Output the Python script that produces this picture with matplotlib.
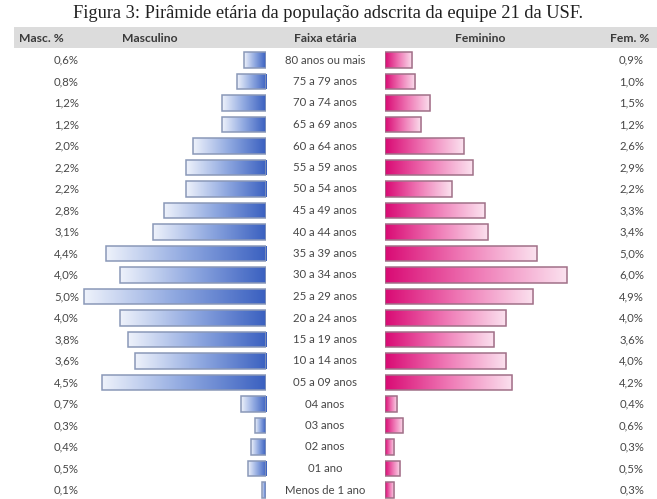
import numpy as np
import matplotlib
matplotlib.use("Agg")
import matplotlib.pyplot as plt
from matplotlib.colors import LinearSegmentedColormap

categories = ["80 anos ou mais", "75 a 79 anos", "70 a 74 anos", "65 a 69 anos",
              "60 a 64 anos", "55 a 59 anos", "50 a 54 anos", "45 a 49 anos",
              "40 a 44 anos", "35 a 39 anos", "30 a 34 anos", "25 a 29 anos",
              "20 a 24 anos", "15 a 19 anos", "10 a 14 anos", "05 a 09 anos",
              "04 anos", "03 anos", "02 anos", "01 ano", "Menos de 1 ano"]
masc = [0.6, 0.8, 1.2, 1.2, 2.0, 2.2, 2.2, 2.8, 3.1, 4.4, 4.0, 5.0, 4.0, 3.8,
        3.6, 4.5, 0.7, 0.3, 0.4, 0.5, 0.1]
fem = [0.9, 1.0, 1.5, 1.2, 2.6, 2.9, 2.2, 3.3, 3.4, 5.0, 6.0, 4.9, 4.0, 3.6,
       4.0, 4.2, 0.4, 0.6, 0.3, 0.5, 0.3]
headers = ["Masc. %", "Masculino", "Faixa etária", "Feminino", "Fem. %"]
title = "Figura 3: Pirâmide etária da população adscrita da equipe 21 da USF."

W, H = 657, 499
fig = plt.figure(figsize=(W / 100, H / 100), dpi=100)

def fx(px):
    return px / W

def fy(py):
    return 1 - py / H

n = len(categories)
row_h = 21.5
top = 60 - row_h / 2
ax_b = fy(top + n * row_h)
ax_h = n * row_h / H

male_px = 36.4
fem_px = 30.3
m_left, m_right = 60, 266
f_left, f_right = 385, 610

axm = fig.add_axes([fx(m_left), ax_b, fx(m_right - m_left), ax_h])
axf = fig.add_axes([fx(f_left), ax_b, fx(f_right - f_left), ax_h])
axm.set_xlim((m_right - m_left) / male_px, 0)
axf.set_xlim(0, (f_right - f_left) / fem_px)
for ax in (axm, axf):
    ax.set_ylim(n - 0.5, -0.5)
    ax.axis("off")

cm_m = LinearSegmentedColormap.from_list("m", ["#3a60c0", "#8fa8e0", "#eef2fb"])
cm_f = LinearSegmentedColormap.from_list("f", ["#d90a74", "#ef78b5", "#fbe2ef"])
grad = np.linspace(0, 1, 256).reshape(1, -1)
y = np.arange(n)
bh = 0.74

for ax, vals, cmap, ec in ((axm, masc, cm_m, "#8a98b8"), (axf, fem, cm_f, "#a07088")):
    bars = ax.barh(y, vals, height=bh, color="none", edgecolor=ec, linewidth=1.1, zorder=3)
    for b, v, yi in zip(bars, vals, y):
        im = ax.imshow(grad, cmap=cmap, aspect="auto",
                       extent=(0, v, yi + bh / 2, yi - bh / 2), zorder=2,
                       interpolation="bilinear")
        im.set_clip_path(b)
    ax.set_xlim(ax.get_xlim())
    ax.set_ylim(n - 0.5, -0.5)

txt_c = "#474747"
font = "Lato"
fs = 8.2
for i, (c, m, f) in enumerate(zip(categories, masc, fem)):
    yy = fy(60 + i * row_h)
    fig.text(fx(79), yy, f"{m:.1f}%".replace(".", ","), ha="right", va="center",
             fontsize=fs, color=txt_c, family=font)
    fig.text(fx(644), yy, f"{f:.1f}%".replace(".", ","), ha="right", va="center",
             fontsize=fs, color=txt_c, family=font)
    fig.text(fx(325), yy, c, ha="center", va="center", fontsize=fs,
             color=txt_c, family=font)

# header band
band = plt.Rectangle((fx(14), fy(48)), 1 - fx(14), fy(27) - fy(48),
                     transform=fig.transFigure, facecolor="#dcdcdc",
                     edgecolor="none", zorder=0)
fig.patches.append(band)
for h, xp in zip(headers, [41, 150, 325, 480, 630]):
    fig.text(fx(xp), fy(38), h, ha="center", va="center", fontsize=8.7,
             fontweight="bold", color="#3a3a3a", family=font)

fig.text(fx(328), fy(13), title, ha="center", va="center", fontsize=13.2,
         family="Liberation Serif", color="#202020")

fig.savefig("out.png", dpi=100)
